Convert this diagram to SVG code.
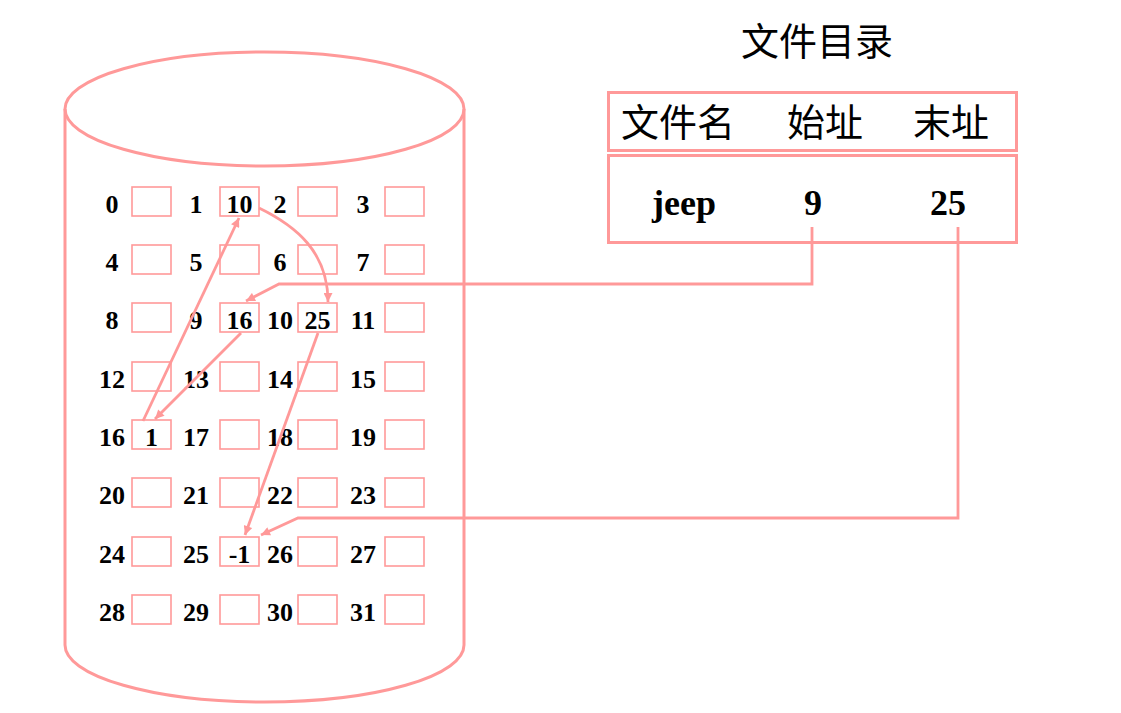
<svg xmlns="http://www.w3.org/2000/svg" width="1121" height="713" viewBox="0 0 1121 713">
<defs>
<style>
.pk{fill:none;stroke:#ff9999;stroke-width:3}
.box{fill:#fff;stroke:#ff9999;stroke-width:1.6}
.num{font-family:"Liberation Serif","DejaVu Serif",serif;font-weight:bold;font-size:26px;fill:#000;text-anchor:middle}
.cjk{font-family:"Noto Sans CJK SC","Noto Sans",sans-serif;fill:#000;text-anchor:middle}
.big{font-family:"Liberation Serif","DejaVu Serif",serif;font-weight:bold;font-size:36px;fill:#000;text-anchor:middle}
.con{fill:none;stroke:#ff9999;stroke-width:2.8;marker-end:url(#ah)}
</style>
<marker id="ah" viewBox="0 0 10 10" refX="10" refY="5" markerWidth="12" markerHeight="9" markerUnits="userSpaceOnUse" orient="auto">
<path d="M0,0 L10,5 L0,10 z" fill="#ff9999"/>
</marker>
</defs>
<rect width="1121" height="713" fill="#fff"/>

<g id="disk">
<path class="pk" d="M65,109 L65,645 A199.5,57 0 0 0 464,645 L464,109"/>
<ellipse class="pk" cx="264.5" cy="109" rx="199.5" ry="57"/>
</g>

<g id="blocks">
<g id="row0">
<text class="num" x="112" y="213">0</text><rect class="box" x="132" y="187" width="39" height="29"/>
<text class="num" x="196" y="213">1</text><rect class="box" x="220" y="187" width="39" height="29"/><text class="num" x="239.5" y="213">10</text>
<text class="num" x="280" y="213">2</text><rect class="box" x="298" y="187" width="39" height="29"/>
<text class="num" x="363" y="213">3</text><rect class="box" x="385" y="187" width="39" height="29"/>
</g>
<g id="row1">
<text class="num" x="112" y="271">4</text><rect class="box" x="132" y="245" width="39" height="29"/>
<text class="num" x="196" y="271">5</text><rect class="box" x="220" y="245" width="39" height="29"/>
<text class="num" x="280" y="271">6</text><rect class="box" x="298" y="245" width="39" height="29"/>
<text class="num" x="363" y="271">7</text><rect class="box" x="385" y="245" width="39" height="29"/>
</g>
<g id="row2">
<text class="num" x="112" y="329">8</text><rect class="box" x="132" y="303" width="39" height="29"/>
<text class="num" x="196" y="329">9</text><rect class="box" x="220" y="303" width="39" height="29"/><text class="num" x="239.5" y="329">16</text>
<text class="num" x="280" y="329">10</text><rect class="box" x="298" y="303" width="39" height="29"/><text class="num" x="317.5" y="329">25</text>
<text class="num" x="363" y="329">11</text><rect class="box" x="385" y="303" width="39" height="29"/>
</g>
<g id="row3">
<text class="num" x="112" y="388">12</text><rect class="box" x="132" y="362" width="39" height="29"/>
<text class="num" x="196" y="388">13</text><rect class="box" x="220" y="362" width="39" height="29"/>
<text class="num" x="280" y="388">14</text><rect class="box" x="298" y="362" width="39" height="29"/>
<text class="num" x="363" y="388">15</text><rect class="box" x="385" y="362" width="39" height="29"/>
</g>
<g id="row4">
<text class="num" x="112" y="446">16</text><rect class="box" x="132" y="420" width="39" height="29"/><text class="num" x="151.5" y="446">1</text>
<text class="num" x="196" y="446">17</text><rect class="box" x="220" y="420" width="39" height="29"/>
<text class="num" x="280" y="446">18</text><rect class="box" x="298" y="420" width="39" height="29"/>
<text class="num" x="363" y="446">19</text><rect class="box" x="385" y="420" width="39" height="29"/>
</g>
<g id="row5">
<text class="num" x="112" y="504">20</text><rect class="box" x="132" y="478" width="39" height="29"/>
<text class="num" x="196" y="504">21</text><rect class="box" x="220" y="478" width="39" height="29"/>
<text class="num" x="280" y="504">22</text><rect class="box" x="298" y="478" width="39" height="29"/>
<text class="num" x="363" y="504">23</text><rect class="box" x="385" y="478" width="39" height="29"/>
</g>
<g id="row6">
<text class="num" x="112" y="563">24</text><rect class="box" x="132" y="537" width="39" height="29"/>
<text class="num" x="196" y="563">25</text><rect class="box" x="220" y="537" width="39" height="29"/><text class="num" x="239.5" y="563">-1</text>
<text class="num" x="280" y="563">26</text><rect class="box" x="298" y="537" width="39" height="29"/>
<text class="num" x="363" y="563">27</text><rect class="box" x="385" y="537" width="39" height="29"/>
</g>
<g id="row7">
<text class="num" x="112" y="621">28</text><rect class="box" x="132" y="595" width="39" height="29"/>
<text class="num" x="196" y="621">29</text><rect class="box" x="220" y="595" width="39" height="29"/>
<text class="num" x="280" y="621">30</text><rect class="box" x="298" y="595" width="39" height="29"/>
<text class="num" x="363" y="621">31</text><rect class="box" x="385" y="595" width="39" height="29"/>
</g>
</g>

<g id="directory">
<text class="cjk" x="817" y="55" font-size="38">文件目录</text>
<rect class="pk" x="608.5" y="92.5" width="408" height="58"/>
<rect class="pk" x="608.5" y="155.5" width="408" height="87"/>
<text class="cjk" x="678" y="136" font-size="38">文件名</text>
<text class="cjk" x="825" y="136" font-size="38">始址</text>
<text class="cjk" x="951" y="136" font-size="38">末址</text>
<text class="big" x="684" y="215">jeep</text>
<text class="big" x="813" y="215">9</text>
<text class="big" x="948" y="215">25</text>
</g>

<g id="connectors">
<path class="con" d="M259,208 C296,226 328,252 328,302"/>
<path class="con" d="M143,421 L239,218"/>
<path class="con" d="M241,333 L155,419"/>
<path class="con" d="M318,333 L245,535"/>
<path class="con" d="M812,227 L812,284 L279,284 L246,301"/>
<path class="con" d="M958,227 L958,518 L298,518 L261,535"/>
</g>
</svg>
